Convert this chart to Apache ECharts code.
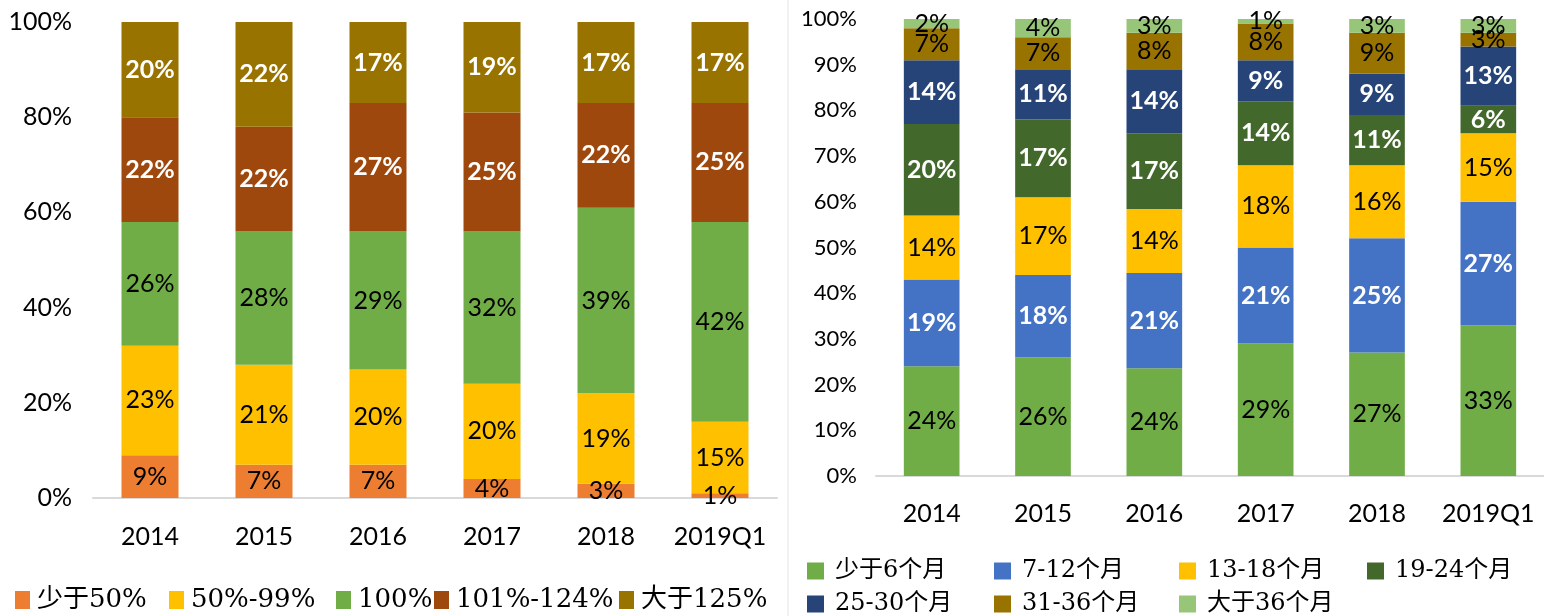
<!DOCTYPE html>
<html>
<head>
<meta charset="utf-8">
<script src="https://cdn.jsdelivr.net/npm/echarts@6/dist/echarts.min.js"></script>
<style>html,body{margin:0;padding:0;background:#fff}#c{width:1544px;height:616px}</style>
</head>
<body>
<div id="c"></div>
<script>
// ---- Left chart data ----
const leftCategories = ['2014', '2015', '2016', '2017', '2018', '2019Q1'];
const leftNames = ['少于50%', '50%-99%', '100%', '101%-124%', '大于125%'];
const leftLt50 = [9, 7, 7, 4, 3, 1];
const left50to99 = [23, 21, 20, 20, 19, 15];
const left100 = [26, 28, 29, 32, 39, 42];
const left101to124 = [22, 22, 27, 25, 22, 25];
const leftGt125 = [20, 22, 17, 19, 17, 17];
const leftTicks = ['0%', '20%', '40%', '60%', '80%', '100%'];

// ---- Right chart data ----
const rightCategories = ['2014', '2015', '2016', '2017', '2018', '2019Q1'];
const rightNames = ['少于6个月', '7-12个月', '13-18个月', '19-24个月', '25-30个月', '31-36个月', '大于36个月'];
const rightLt6 = [24, 26, 23.6, 29, 27, 33];
const right7to12 = [19, 18, 20.8, 21, 25, 27];
const right13to18 = [14, 17, 14, 18, 16, 15];
const right19to24 = [20, 17, 16.6, 14, 11, 6];
const right25to30 = [14, 11, 14, 9, 9, 13];
const right31to36 = [7, 7, 8, 8, 9, 3];
const rightGt36 = [2, 4, 3, 1, 3, 3];
const rightTicks = ['0%', '10%', '20%', '30%', '40%', '50%', '60%', '70%', '80%', '90%', '100%'];

const numFont = 'Lato, "Open Sans", sans-serif';
const legFont = '"DejaVu Serif", "Noto Sans CJK SC", serif';

const leftData = [leftLt50, left50to99, left100, left101to124, leftGt125];
const leftColors = ['#ED7D31', '#FFC000', '#70AD47', '#9E480E', '#997300'];
const leftWhite = [false, false, false, true, true];

const rightData = [rightLt6, right7to12, right13to18, right19to24, right25to30, right31to36, rightGt36];
const rightColors = ['#70AD47', '#4472C4', '#FFC000', '#43682B', '#264478', '#997300', '#97C679'];
const rightWhite = [false, true, false, true, true, false, false];

function mkLabel(white, size) {
  return {
    show: true, position: 'inside',
    formatter: p => Math.round(p.value) + '%',
    color: white ? '#fff' : '#000',
    fontWeight: white ? 'bold' : 'normal',
    fontFamily: numFont, fontSize: size
  };
}

const series = [];
leftNames.forEach((n, i) => series.push({
  name: n, type: 'bar', stack: 'L', xAxisIndex: 0, yAxisIndex: 0,
  data: leftData[i], barWidth: '50%',
  itemStyle: { color: leftColors[i] },
  label: mkLabel(leftWhite[i], 25)
}));
rightNames.forEach((n, i) => series.push({
  name: n, type: 'bar', stack: 'R', xAxisIndex: 1, yAxisIndex: 1,
  data: rightData[i], barWidth: '50%',
  itemStyle: { color: rightColors[i] },
  label: mkLabel(rightWhite[i], 25)
}));

// legend positions (layout only)
const leftLegPos = [10, 164, 331, 429, 614];
const rightLegPos = [[802, 554], [989, 554], [1174, 554], [1362, 554], [802, 587], [989, 587], [1174, 587]];
const legends = [];
leftNames.forEach((n, i) => legends.push({
  data: [n], left: leftLegPos[i], top: 582, itemWidth: 15, itemHeight: 18, itemGap: 0,
  icon: 'rect', selectedMode: false,
  textStyle: { fontFamily: legFont, fontSize: 26, color: '#000', padding: [0, 0, 0, 2] }
}));
rightNames.forEach((n, i) => legends.push({
  data: [n], left: rightLegPos[i][0], top: rightLegPos[i][1], itemWidth: 17, itemHeight: 17, itemGap: 0,
  icon: 'rect', selectedMode: false,
  textStyle: { fontFamily: legFont, fontSize: 24, color: '#000', padding: [0, 0, 0, 6] }
}));

const chart = echarts.init(document.getElementById('c'), null, { renderer: 'canvas' });
chart.setOption({
  animation: false,
  backgroundColor: '#fff',
  legend: legends,
  grid: [
    { left: 93, right: 767, top: 22, bottom: 118 },
    { left: 876, right: 0, top: 19, bottom: 140 }
  ],
  xAxis: [
    { type: 'category', gridIndex: 0, data: leftCategories,
      axisLine: { lineStyle: { color: '#D9D9D9', width: 2 } }, axisTick: { show: false },
      axisLabel: { interval: 0, fontFamily: numFont, fontSize: 25, color: '#000', margin: 26 } },
    { type: 'category', gridIndex: 1, data: rightCategories,
      axisLine: { lineStyle: { color: '#D9D9D9', width: 2 } }, axisTick: { show: false },
      axisLabel: { interval: 0, fontFamily: numFont, fontSize: 25, color: '#000', margin: 25 } }
  ],
  yAxis: [
    { type: 'value', gridIndex: 0, min: 0, max: 100, interval: 20,
      splitLine: { show: false }, axisLine: { show: false }, axisTick: { show: false },
      axisLabel: { fontFamily: numFont, fontSize: 25, color: '#000', margin: 21,
        formatter: v => leftTicks[v / 20] } },
    { type: 'value', gridIndex: 1, min: 0, max: 100, interval: 10,
      splitLine: { show: false }, axisLine: { show: false }, axisTick: { show: false },
      axisLabel: { fontFamily: numFont, fontSize: 22, color: '#000', margin: 19,
        formatter: v => rightTicks[v / 10] } }
  ],
  graphic: [
    { type: 'line', shape: { x1: 788, y1: 0, x2: 788, y2: 616 }, style: { stroke: '#E3E3E3', lineWidth: 1 } }
  ],
  series: series
});
</script>
</body>
</html>
